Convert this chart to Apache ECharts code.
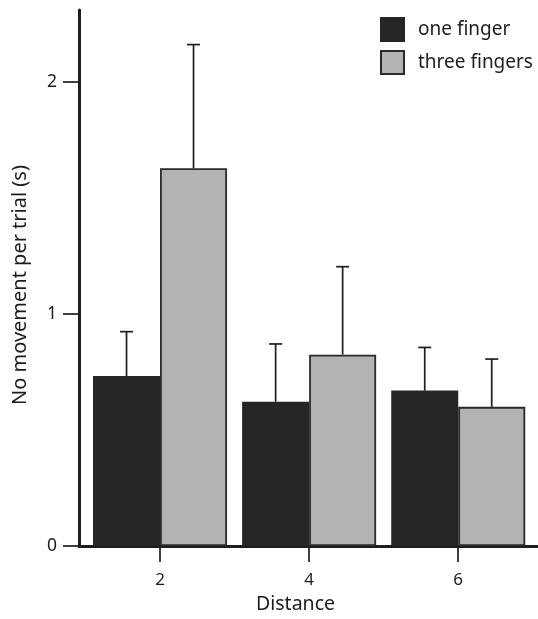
<!DOCTYPE html>
<html>
<head>
<meta charset="utf-8">
<script src="https://cdn.jsdelivr.net/npm/echarts@6/dist/echarts.min.js"></script>
<style>html,body{margin:0;padding:0;background:#fff}#c{width:538px;height:619px}</style>
</head>
<body>
<div id="c"></div>
<script>
const distances = [2, 4, 6];
const seriesNames = ['one finger', 'three fingers'];
const oneFinger = [0.733, 0.622, 0.670];
const oneFingerErrTop = [0.924, 0.871, 0.856];
const threeFingers = [1.628, 0.825, 0.600];
const threeFingersErrTop = [2.161, 1.204, 0.806];
const yTicks = [0, 1, 2];

const FONT = 'Noto Sans';
const INK = '#1e1e1e';
const TXT = '#1c1c1c';
const BAR_W = 67;

function errSeries(name, means, tops, offset) {
  return {
    type: 'custom',
    name: name + ' err',
    z: 5,
    data: distances.map((d, i) => [d, means[i], tops[i]]),
    renderItem: function (params, api) {
      const p0 = api.coord([api.value(0), api.value(1)]);
      const p1 = api.coord([api.value(0), api.value(2)]);
      const cx = p0[0] + offset;
      const st = { stroke: INK, lineWidth: 1.7 };
      return {
        type: 'group',
        children: [
          { type: 'line', shape: { x1: cx, y1: p0[1], x2: cx, y2: p1[1] }, style: st },
          { type: 'line', shape: { x1: cx - 6.5, y1: p1[1], x2: cx + 6.5, y2: p1[1] }, style: st }
        ]
      };
    }
  };
}

const chart = echarts.init(document.getElementById('c'));
chart.setOption({
  backgroundColor: '#fff',
  animation: false,
  textStyle: { fontFamily: FONT },
  grid: { left: 79, right: 0, top: 10, bottom: 72, containLabel: false },
  legend: {
    orient: 'vertical',
    left: 380,
    top: 17,
    padding: 0,
    itemWidth: 23,
    itemHeight: 23,
    itemGap: 8,
    icon: 'rect',
    data: seriesNames,
    textStyle: { fontFamily: FONT, fontSize: 19, color: TXT, padding: [0, 0, 0, 9] }
  },
  xAxis: {
    type: 'value',
    min: 0.913,
    max: 7.07,
    name: 'Distance',
    nameLocation: 'middle',
    nameGap: 47,
    nameTextStyle: { fontFamily: FONT, fontSize: 19.5, color: TXT, padding: [0, 26, 0, 0] },
    splitLine: { show: false },
    axisLine: { show: true, lineStyle: { color: INK, width: 3 } },
    axisTick: { show: true, length: 16, customValues: distances, lineStyle: { color: INK, width: 1.7 } },
    axisLabel: { customValues: distances, margin: 26, fontSize: 17, color: TXT, fontFamily: FONT }
  },
  yAxis: {
    type: 'value',
    min: 0,
    max: 2.31,
    interval: 1,
    name: 'No movement per trial (s)',
    nameLocation: 'middle',
    nameRotate: 90,
    nameGap: 49,
    nameTextStyle: { fontFamily: FONT, fontSize: 20, color: TXT, padding: [0, 14, 0, 0] },
    splitLine: { show: false },
    axisLine: { show: true, lineStyle: { color: INK, width: 3 } },
    axisTick: { show: true, length: 16, customValues: yTicks, lineStyle: { color: INK, width: 1.7 } },
    axisLabel: { customValues: yTicks, margin: 22, fontSize: 17.5, color: TXT, fontFamily: FONT }
  },
  series: [
    {
      type: 'bar',
      name: seriesNames[0],
      barWidth: BAR_W,
      barGap: '0%',
      data: distances.map((d, i) => [d, oneFinger[i]]),
      itemStyle: { color: '#262626', borderColor: '#262626', borderWidth: 1.5 }
    },
    {
      type: 'bar',
      name: seriesNames[1],
      barWidth: BAR_W,
      barGap: '0%',
      data: distances.map((d, i) => [d, threeFingers[i]]),
      itemStyle: { color: '#b3b3b3', borderColor: '#2a2a2a', borderWidth: 1.8 }
    },
    errSeries(seriesNames[0], oneFinger, oneFingerErrTop, -BAR_W / 2),
    errSeries(seriesNames[1], threeFingers, threeFingersErrTop, BAR_W / 2)
  ]
});
</script>
</body>
</html>
